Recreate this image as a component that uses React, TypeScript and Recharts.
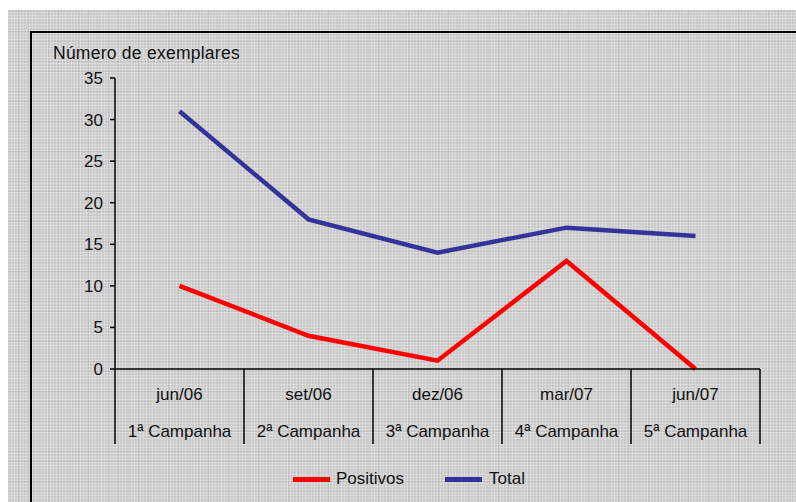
import React from 'react';
import { LineChart, Line, XAxis, YAxis } from 'recharts';

const meses = ['jun/06', 'set/06', 'dez/06', 'mar/07', 'jun/07'];
const campanhas = ['1ª Campanha', '2ª Campanha', '3ª Campanha', '4ª Campanha', '5ª Campanha'];
const positivos = [10, 4, 1, 13, 0];
const total = [31, 18, 14, 17, 16];
const yTicks = [0, 5, 10, 15, 20, 25, 30, 35];

const data = meses.map((mes, i) => ({
  mes,
  campanha: campanhas[i],
  Positivos: positivos[i],
  Total: total[i],
}));

const FONT = '"Liberation Sans", Arial, sans-serif';

const CategoryTick = (props: any) => {
  const { x, y, payload, index } = props;
  const half = payload && payload.offset ? payload.offset : 64.5;
  const last = index === meses.length - 1;
  return (
    <g>
      <line x1={x - half} y1={y} x2={x - half} y2={y + 75} stroke="#000" strokeWidth={1.5} />
      {last && <line x1={x + half} y1={y} x2={x + half} y2={y + 75} stroke="#000" strokeWidth={1.5} />}
      <text x={x} y={y + 31} textAnchor="middle" fontSize={17} fill="#111" fontFamily={FONT}>
        {payload.value}
      </text>
      <text x={x} y={y + 68} textAnchor="middle" fontSize={17} fill="#111" fontFamily={FONT}>
        {campanhas[index]}
      </text>
    </g>
  );
};

export default function App() {
  const pattern =
    'repeating-linear-gradient(90deg, rgba(255,255,255,0.25) 0 1px, transparent 1px 3px),' +
    'repeating-linear-gradient(0deg, rgba(255,255,255,0.25) 0 1px, transparent 1px 3px),' +
    'repeating-linear-gradient(90deg, rgba(0,0,0,0.06) 0 1px, transparent 1px 10px),' +
    'repeating-linear-gradient(0deg, rgba(0,0,0,0.06) 0 1px, transparent 1px 10px)';
  return (
    <div style={{ position: 'absolute', left: 0, top: 0, width: 796, height: 502, background: '#fff', overflow: 'hidden', fontFamily: FONT }}>
      <div style={{ position: 'absolute', left: 8, top: 10, right: 0, bottom: 0, backgroundColor: '#cacaca', backgroundImage: pattern }} />
      <div style={{ position: 'absolute', left: 30, top: 31, width: 800, height: 500, borderLeft: '2px solid #000', borderTop: '2px solid #000' }} />
      <div style={{ position: 'absolute', left: 53, top: 43, fontSize: 17.5, letterSpacing: 0.25, lineHeight: '20px', color: '#111', whiteSpace: 'nowrap' }}>
        Número de exemplares
      </div>
      <div style={{ position: 'absolute', left: 0, top: 0 }}>
        <LineChart width={796} height={502} data={data} margin={{ top: 78, right: 36, bottom: 58, left: 55 }} style={{ fontFamily: FONT }}>
          <XAxis
            dataKey="mes"
            scale="band"
            height={75}
            tickLine={false}
            tickSize={0}
            tickMargin={0}
            interval={0}
            axisLine={{ stroke: '#000', strokeWidth: 1.5 }}
            tick={<CategoryTick />}
          />
          <YAxis
            width={60}
            domain={[0, 35]}
            ticks={yTicks}
            interval={0}
            tickSize={5}
            tickMargin={7}
            axisLine={{ stroke: '#000', strokeWidth: 1.5 }}
            tickLine={{ stroke: '#000', strokeWidth: 1.5 }}
            tick={{ fill: '#111', fontSize: 17, fontFamily: FONT }}
          />
          <Line type="linear" dataKey="Positivos" stroke="#ff0000" strokeWidth={4.5} dot={false} isAnimationActive={false} />
          <Line type="linear" dataKey="Total" stroke="#333399" strokeWidth={4.5} dot={false} isAnimationActive={false} />
        </LineChart>
      </div>
      <div style={{ position: 'absolute', left: 293, top: 469, height: 20, display: 'flex', alignItems: 'center', fontSize: 17, color: '#111' }}>
        <span style={{ display: 'inline-block', width: 37, height: 5, background: '#ff0000', marginRight: 6 }} />
        <span>Positivos</span>
        <span style={{ display: 'inline-block', width: 37, height: 5, background: '#333399', marginLeft: 41, marginRight: 7 }} />
        <span>Total</span>
      </div>
    </div>
  );
}
